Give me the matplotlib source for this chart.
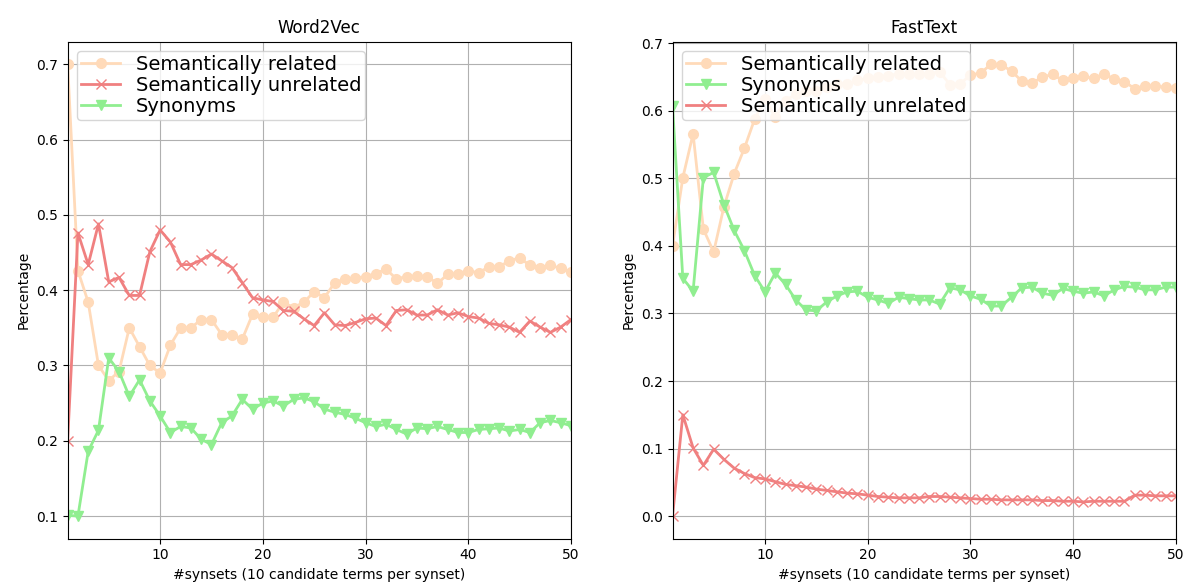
import numpy as np
import matplotlib
matplotlib.use("Agg")
import matplotlib.pyplot as plt

synsets = np.arange(1, 51)

# Word2Vec
w2v_related = [0.700, 0.426, 0.384, 0.300, 0.280, 0.292, 0.350, 0.325, 0.300, 0.290,
               0.327, 0.350, 0.350, 0.361, 0.361, 0.341, 0.341, 0.335, 0.368, 0.365,
               0.364, 0.384, 0.377, 0.384, 0.398, 0.390, 0.410, 0.415, 0.416, 0.418,
               0.422, 0.428, 0.415, 0.418, 0.419, 0.418, 0.409, 0.421, 0.422, 0.426,
               0.423, 0.431, 0.431, 0.439, 0.443, 0.433, 0.429, 0.433, 0.429, 0.424]
w2v_unrelated = [0.200, 0.476, 0.434, 0.488, 0.411, 0.417, 0.393, 0.393, 0.451, 0.480,
                 0.464, 0.434, 0.434, 0.440, 0.448, 0.439, 0.430, 0.410, 0.390, 0.387,
                 0.385, 0.373, 0.372, 0.362, 0.353, 0.370, 0.354, 0.353, 0.357, 0.362,
                 0.363, 0.353, 0.373, 0.374, 0.367, 0.367, 0.374, 0.367, 0.370, 0.365,
                 0.363, 0.356, 0.354, 0.351, 0.344, 0.359, 0.351, 0.344, 0.351, 0.361]
w2v_synonyms = [0.101, 0.100, 0.186, 0.214, 0.310, 0.292, 0.259, 0.281, 0.253, 0.233,
                0.211, 0.219, 0.217, 0.202, 0.195, 0.224, 0.233, 0.255, 0.242, 0.250,
                0.253, 0.246, 0.255, 0.257, 0.252, 0.242, 0.238, 0.235, 0.230, 0.224,
                0.219, 0.222, 0.215, 0.209, 0.217, 0.216, 0.219, 0.215, 0.211, 0.211,
                0.215, 0.216, 0.217, 0.213, 0.215, 0.211, 0.224, 0.227, 0.224, 0.220]

# FastText
ft_related = [0.400, 0.501, 0.566, 0.425, 0.391, 0.458, 0.507, 0.545, 0.588, 0.617,
              0.591, 0.615, 0.625, 0.630, 0.630, 0.635, 0.640, 0.640, 0.645, 0.648,
              0.650, 0.652, 0.655, 0.655, 0.654, 0.655, 0.658, 0.639, 0.640, 0.653,
              0.656, 0.669, 0.668, 0.659, 0.644, 0.641, 0.650, 0.654, 0.645, 0.649,
              0.651, 0.648, 0.655, 0.647, 0.643, 0.633, 0.637, 0.637, 0.635, 0.634]
ft_synonyms = [0.607, 0.352, 0.333, 0.501, 0.509, 0.461, 0.423, 0.393, 0.356, 0.332,
               0.360, 0.343, 0.320, 0.305, 0.304, 0.317, 0.326, 0.332, 0.333, 0.324,
               0.320, 0.315, 0.324, 0.322, 0.320, 0.320, 0.314, 0.338, 0.335, 0.326,
               0.321, 0.311, 0.311, 0.324, 0.338, 0.339, 0.330, 0.327, 0.337, 0.333,
               0.330, 0.332, 0.326, 0.335, 0.340, 0.339, 0.335, 0.335, 0.339, 0.339]
ft_unrelated = [0.000, 0.150, 0.101, 0.075, 0.099, 0.084, 0.071, 0.063, 0.057, 0.055,
                0.051, 0.047, 0.045, 0.043, 0.040, 0.038, 0.036, 0.034, 0.033, 0.031,
                0.029, 0.028, 0.027, 0.027, 0.027, 0.029, 0.029, 0.028, 0.027, 0.026,
                0.025, 0.025, 0.024, 0.024, 0.024, 0.024, 0.023, 0.023, 0.022, 0.022,
                0.021, 0.022, 0.022, 0.022, 0.022, 0.031, 0.031, 0.030, 0.030, 0.030]

c_rel = "peachpuff"
c_unrel = "lightcoral"
c_syn = "lightgreen"
xlabel = "#synsets (10 candidate terms per synset)"

fig = plt.figure(figsize=(11.87, 5.87), dpi=100)
ax1 = fig.add_axes([0.057, 0.0823, 0.424, 0.8467])
ax2 = fig.add_axes([0.5666, 0.0823, 0.424, 0.8467])

ax1.plot(synsets, w2v_related, color=c_rel, marker="o", ms=7, lw=2, label="Semantically related")
ax1.plot(synsets, w2v_unrelated, color=c_unrel, marker="x", ms=7, lw=2, label="Semantically unrelated")
ax1.plot(synsets, w2v_synonyms, color=c_syn, marker="v", ms=7, lw=2, label="Synonyms")
ax1.set_title("Word2Vec")

ax2.plot(synsets, ft_related, color=c_rel, marker="o", ms=7, lw=2, label="Semantically related")
ax2.plot(synsets, ft_synonyms, color=c_syn, marker="v", ms=7, lw=2, label="Synonyms")
ax2.plot(synsets, ft_unrelated, color=c_unrel, marker="x", ms=7, lw=2, label="Semantically unrelated")
ax2.set_title("FastText")

for ax in (ax1, ax2):
    ax.set_xlim(1, 50)
    ax.set_xticks([10, 20, 30, 40, 50])
    ax.grid(True)
    ax.set_xlabel(xlabel)
    ax.set_ylabel("Percentage")
    ax.legend(loc="upper left", fontsize=14, borderaxespad=0.5, borderpad=0.2,
              labelspacing=0.1)

fig.savefig("out.png", dpi=100)
